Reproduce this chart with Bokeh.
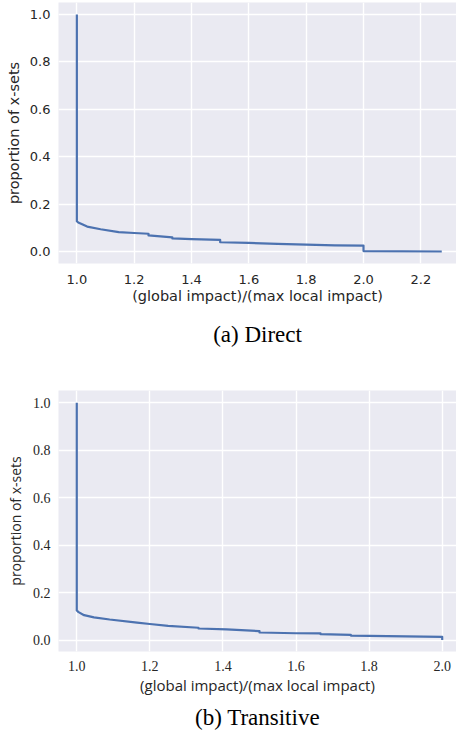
from bokeh.plotting import figure
from bokeh.models import Range1d, FixedTicker, PrintfTickFormatter, Title
from bokeh.layouts import column
from bokeh.embed import file_html
from bokeh.resources import INLINE

# Direct: complementary cumulative proportion of x-sets
direct_x = [1.0, 1.0, 1.005, 1.036, 1.083, 1.146, 1.2, 1.25, 1.25, 1.333, 1.333,
            1.4, 1.5, 1.5, 1.6, 1.7, 1.8, 1.9, 2.0, 2.0, 2.273]
direct_y = [1.0, 0.128, 0.122, 0.105, 0.094, 0.082, 0.078, 0.075, 0.068, 0.060, 0.055,
            0.052, 0.049, 0.039, 0.036, 0.032, 0.029, 0.026, 0.025, 0.002, 0.0]

# Transitive
trans_x = [1.0, 1.0, 1.005, 1.02, 1.047, 1.09, 1.165, 1.2, 1.25, 1.333, 1.333,
           1.41, 1.5, 1.5, 1.6, 1.667, 1.667, 1.75, 1.75, 1.9, 2.0, 2.0]
trans_y = [1.0, 0.125, 0.118, 0.105, 0.096, 0.087, 0.074, 0.068, 0.060, 0.052, 0.049,
           0.045, 0.038, 0.032, 0.029, 0.028, 0.025, 0.022, 0.019, 0.016, 0.014, 0.0]

direct_xticks = [1.0, 1.2, 1.4, 1.6, 1.8, 2.0, 2.2]
trans_xticks = [1.0, 1.2, 1.4, 1.6, 1.8, 2.0]
yticks = [0.0, 0.2, 0.4, 0.6, 0.8, 1.0]

xlabel = "(global impact)/(max local impact)"
ylabel = "proportion of x-sets"
caption_a = "(a) Direct"
caption_b = "(b) Transitive"

BG = "#EAEAF2"
LINE = "#4C72B0"
TXT = "#262626"


def make_fig(xs, ys, xticks, xr, yr, height, top, bottom, tick_font, tick_size,
             label_font, xlabel_size, ylabel_size, x_standoff, xlab_standoff,
             caption, cap_standoff):
    p = figure(width=456, height=height, output_backend="svg", toolbar_location=None,
               x_range=Range1d(*xr), y_range=Range1d(*yr),
               min_border_left=58, min_border_right=0,
               min_border_top=top, min_border_bottom=bottom)
    p.background_fill_color = BG
    p.border_fill_color = "white"
    p.outline_line_color = None
    p.line(xs, ys, line_color=LINE, line_width=2.2, line_join="round")
    for ax, ticks in ((p.xaxis[0], xticks), (p.yaxis[0], yticks)):
        ax.ticker = FixedTicker(ticks=ticks)
        ax.formatter = PrintfTickFormatter(format="%.1f")
        ax.axis_line_color = None
        ax.major_tick_line_color = None
        ax.minor_tick_line_color = None
        ax.major_tick_out = 0
        ax.major_tick_in = 0
        ax.major_label_text_font = tick_font
        ax.major_label_text_font_size = tick_size
        ax.major_label_text_color = TXT
        ax.axis_label_text_font = label_font
        ax.axis_label_text_font_style = "normal"
        ax.axis_label_text_color = TXT
    p.yaxis.major_label_standoff = 8
    p.yaxis.axis_label_standoff = 5
    p.xaxis.major_label_standoff = x_standoff
    p.xaxis.axis_label_standoff = xlab_standoff
    p.xaxis.axis_label = xlabel
    p.yaxis.axis_label = ylabel
    p.xaxis.axis_label_text_font_size = xlabel_size
    p.yaxis.axis_label_text_font_size = ylabel_size
    p.xgrid.ticker = FixedTicker(ticks=xticks)
    p.ygrid.ticker = FixedTicker(ticks=yticks)
    for g in (p.xgrid[0], p.ygrid[0]):
        g.grid_line_color = "white"
        g.grid_line_width = 1.4
    p.add_layout(Title(text=caption, align="center", text_font="Liberation Serif",
                       text_font_size="23px", text_font_style="normal",
                       text_color="black", standoff=cap_standoff), "below")
    return p


p1 = make_fig(direct_x, direct_y, direct_xticks, (0.936, 2.3244), (-0.0506, 1.0506),
              360, 2, 97, "DejaVu Sans", "13px", "DejaVu Sans", "14.5px", "14.5px",
              11, 1, caption_a, 26)
p2 = make_fig(trans_x, trans_y, trans_xticks, (0.95, 2.0391), (-0.048, 1.052),
              375, 30, 84, "Liberation Serif", "14px", "Open Sans", "15px", "14px",
              9, 1, caption_b, 11)

layout = column(p1, p2, spacing=0)
open("out.html", "w").write(file_html(layout, INLINE))
